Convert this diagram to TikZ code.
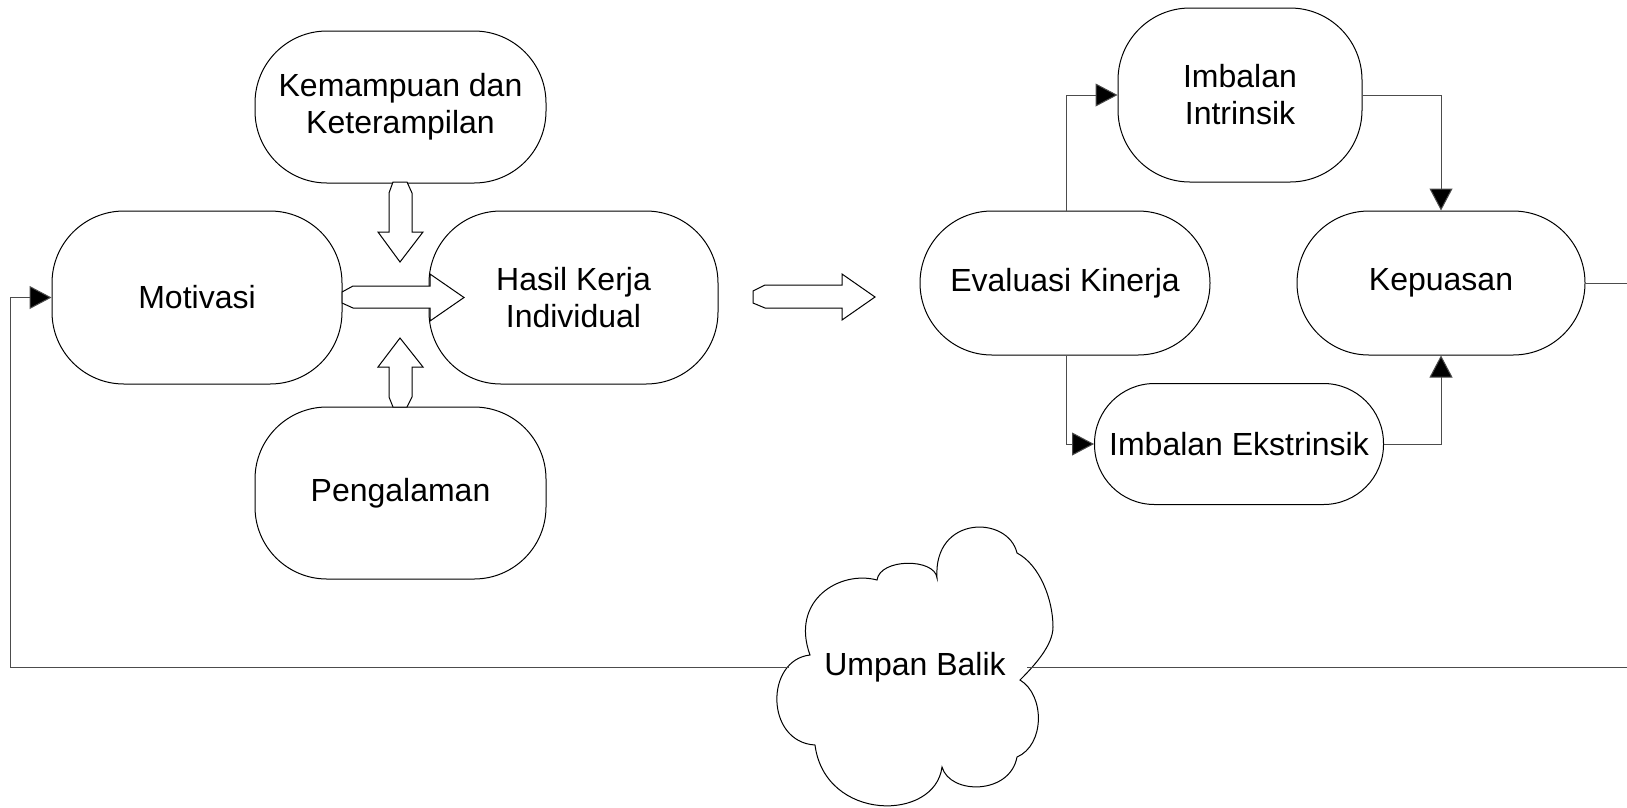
\documentclass[tikz,border=0pt]{standalone}
\usepackage{fontspec}
\setmainfont{Liberation Sans}
\usetikzlibrary{arrows.meta}
\begin{document}
\begin{tikzpicture}[x=1pt,y=-1pt,
  box/.style={draw=black,line width=1pt,fill=white,rounded corners=72pt,align=center,
    font=\fontsize{32}{37}\selectfont,inner sep=0pt},
  conn/.style={draw=black!70,line width=1pt},
  tipped/.style={-{Triangle[length=22pt,width=23pt,fill=black]}},
  blk/.style={draw=black,line width=1pt,fill=white,line join=miter},
  lbl/.style={font=\fontsize{32}{37}\selectfont,inner sep=0pt}]
\useasboundingbox (0,0) rectangle (1627,807);

% left group
\node[box,minimum width=291pt,minimum height=152pt] (kem) at (400.5,107) {Kemampuan dan\\Keterampilan};
\node[box,minimum width=290pt,minimum height=173pt] (mot) at (197,297.5) {Motivasi};
\node[box,minimum width=289pt,minimum height=173pt] (has) at (573.5,297.5) {Hasil Kerja\\Individual};
\node[box,minimum width=291pt,minimum height=172pt] (pen) at (400.5,493) {Pengalaman};

% block arrows
\draw[blk] (393,182) -- (407,182) -- (412,193) -- (412,232) -- (423,232) -- (400,262)
  -- (378,232) -- (389,232) -- (389,193) -- cycle;
\draw[blk] (400,338) -- (423,367) -- (412,367) -- (412,397) -- (407,407) -- (393,407)
  -- (389,397) -- (389,367) -- (378,367) -- cycle;
\draw[blk] (342,292) -- (353,286) -- (430,286) -- (430,274) -- (464,297.5) -- (430,321)
  -- (430,308) -- (353,308) -- (342,303) -- cycle;
\draw[blk] (753,291) -- (765,285) -- (842,285) -- (842,274) -- (875,297) -- (842,320)
  -- (842,308) -- (765,308) -- (753,303) -- cycle;

% right group
\node[box,minimum width=290pt,minimum height=144pt] (eva) at (1065,283) {Evaluasi Kinerja};
\node[box,minimum width=244pt,minimum height=174pt] (ii) at (1240,95) {Imbalan\\Intrinsik};
\node[box,minimum width=288pt,minimum height=144pt] (kep) at (1441,283) {Kepuasan};
\node[box,rounded corners=60pt,minimum width=289pt,minimum height=121pt] (ie) at (1239,444) {Imbalan Ekstrinsik};

\draw[conn,tipped] (eva.north -| 1066,0) |- (ii.west);
\draw[conn,tipped] (eva.south -| 1066,0) |- (ie.west);
\draw[conn,tipped] (ii.east) -| (kep.north);
\draw[conn,tipped] (ie.east) -| (kep.south);

% cloud
\draw[line width=1pt,fill=white]
  (877,580) .. controls (880,558) and (935,558) .. (937,578)
  .. controls (933,515) and (1008,515) .. (1017,553)
  .. controls (1040,565) and (1053,600) .. (1053,627)
  .. controls (1053,645) and (1035,665) .. (1020,680)
  .. controls (1045,695) and (1045,745) .. (1017,757)
  .. controls (1010,795) and (950,795) .. (942,767)
  .. controls (935,822) and (825,822) .. (815,745)
  .. controls (765,742) and (765,660) .. (810,655)
  .. controls (790,600) and (840,570) .. (877,580) -- cycle;
\node[lbl] (fb) at (915,667) {Umpan Balik};

% feedback loop
\coordinate (er) at (1628,283);
\coordinate (ebr) at (1628,667);
\coordinate (cr) at (1027,667);
\coordinate (cl) at (789,667);
\coordinate (bl) at (10,667);
\draw[conn] (kep.east) -- (er);
\draw[conn] (ebr) -- (cr);
\draw[conn,tipped] (cl) -- (bl) |- (mot.west);
\end{tikzpicture}
\end{document}
